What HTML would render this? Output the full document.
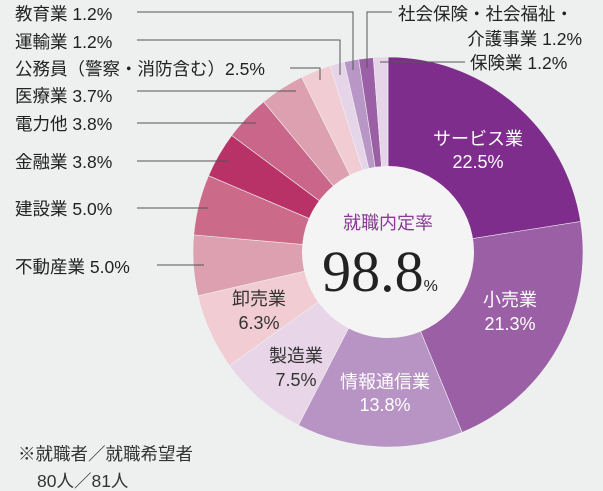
<!DOCTYPE html>
<html><head><meta charset="utf-8"><style>
html,body{margin:0;padding:0;background:#eef0ef;}
svg{display:block;font-family:"Liberation Sans","Noto Sans CJK JP",sans-serif;}
</style></head><body>
<svg width="603" height="491" viewBox="0 0 603 491">
<rect width="603" height="491" fill="#eef0ef"/>
<g id="slices"></g>
<circle cx="388" cy="252" r="86" fill="#f4f4f4"/>
<g id="leaders" stroke="#555" stroke-width="1" fill="none">
<polyline points="137,12 353,12 353,70"/>
<polyline points="137,40 340,40 340,75"/>
<polyline points="290,68 320,68 320,80"/>
<polyline points="137,91 296,91"/>
<polyline points="137,123 256,123"/>
<polyline points="137,161 229,161"/>
<polyline points="137,208 208,208"/>
<polyline points="157,265 204,265"/>
<polyline points="392,12 367,12 367,68"/>
<polyline points="380,62 465,62"/>
</g>
<g font-size="17.5" fill="#222">
<text x="15" y="20">教育業 1.2%</text>
<text x="15" y="48">運輸業 1.2%</text>
<text x="15" y="75">公務員（警察・消防含む）2.5%</text>
<text x="15" y="102">医療業 3.7%</text>
<text x="15" y="130">電力他 3.8%</text>
<text x="15" y="168">金融業 3.8%</text>
<text x="15" y="215">建設業 5.0%</text>
<text x="15" y="273">不動産業 5.0%</text>
<text x="398" y="20">社会保険・社会福祉・</text>
<text x="582" y="45" text-anchor="end">介護事業 1.2%</text>
<text x="470" y="69">保険業 1.2%</text>
</g>
<g font-size="18" text-anchor="middle">
<text x="478" y="145" fill="#fff">サービス業</text>
<text x="478" y="168" fill="#fff">22.5%</text>
<text x="510" y="306" fill="#fff">小売業</text>
<text x="510" y="330" fill="#fff">21.3%</text>
<text x="385" y="388" fill="#fff">情報通信業</text>
<text x="385" y="411" fill="#fff">13.8%</text>
<text x="296" y="362" fill="#333">製造業</text>
<text x="296" y="386" fill="#333">7.5%</text>
<text x="259" y="305" fill="#333">卸売業</text>
<text x="259" y="329" fill="#333">6.3%</text>
</g>
<text x="388" y="229" font-size="18" fill="#8a3a96" text-anchor="middle">就職内定率</text>
<text x="380" y="291" font-size="58" fill="#222" text-anchor="middle" font-family="'Liberation Serif',serif">98.8<tspan font-size="16" font-family="'Liberation Sans',sans-serif">%</tspan></text>
<text x="18" y="460" font-size="17.5" fill="#333">※就職者／就職希望者</text>
<text x="37" y="487" font-size="17.5" fill="#333">80人／81人</text>
</svg>
<script>
const categories=["サービス業","小売業","情報通信業","製造業","卸売業","不動産業","建設業","金融業","電力他","医療業","公務員","教育業","運輸業","社会保険・社会福祉・介護事業","保険業"];
const values=[22.5,21.3,13.8,7.5,6.3,5.0,5.0,3.8,3.8,3.7,2.5,1.2,1.2,1.2,1.2];
const colors=["#7f2d8d","#9b5fa5","#b894c4","#e8d5e8","#f2ccd3","#dca0b0","#cc6a8a","#b83268","#c9668a","#dca0b0","#f2ccd3","#e6d5e8","#b896c6","#9b5fa5","#e6d5e8"];
const cx=388,cy=252,R=195,r=80;
const g=document.getElementById('slices');
const total=values.reduce((a,b)=>a+b,0);
let a0=-Math.PI/2;
function pt(a,rad){return [cx+rad*Math.cos(a),cy+rad*Math.sin(a)];}
values.forEach((v,i)=>{
 const a1=a0+v/total*2*Math.PI;
 const [x1,y1]=pt(a0,R),[x2,y2]=pt(a1,R),[x3,y3]=pt(a1,r),[x4,y4]=pt(a0,r);
 const lg=(a1-a0)>Math.PI?1:0;
 const p=document.createElementNS('http://www.w3.org/2000/svg','path');
 p.setAttribute('d',`M${x1},${y1}A${R},${R} 0 ${lg} 1 ${x2},${y2}L${x3},${y3}A${r},${r} 0 ${lg} 0 ${x4},${y4}Z`);
 p.setAttribute('fill',colors[i]);
 p.setAttribute('stroke','#eef0ef');
 p.setAttribute('stroke-width','0.6');
 
 
 g.appendChild(p);
 a0=a1;
});
</script>
</body></html>
